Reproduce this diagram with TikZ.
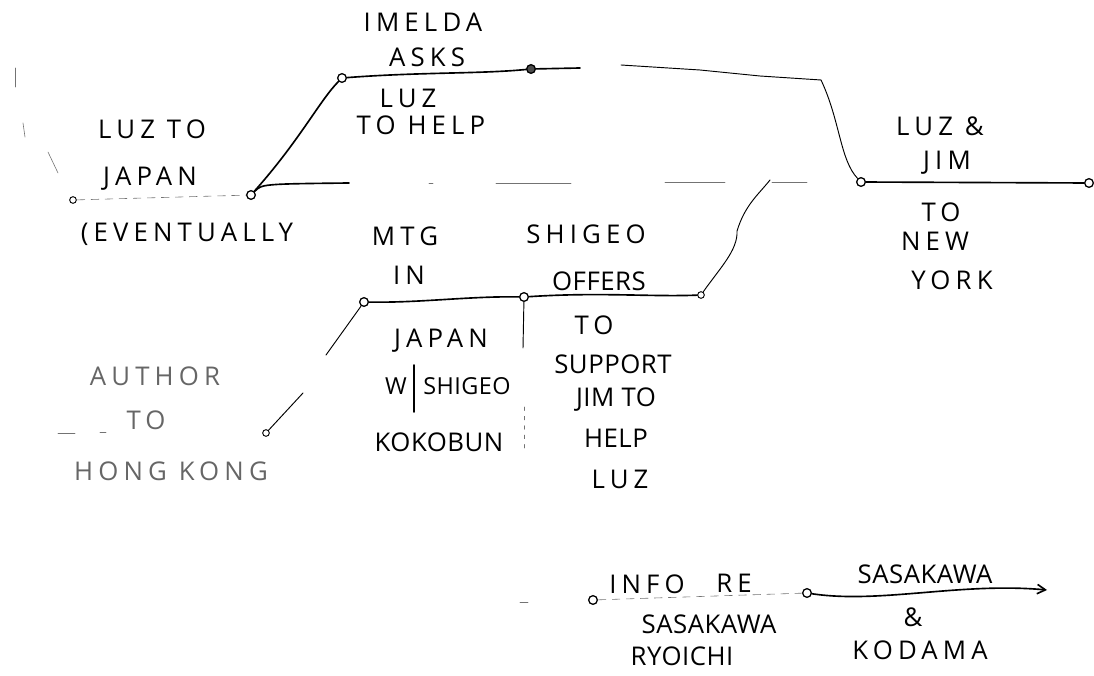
\documentclass[tikz,border=0pt]{standalone}
\usepackage{fontspec}
\setmainfont{Open Sans}[LetterSpace=20]
\usetikzlibrary{arrows.meta}
\begin{document}
\begin{tikzpicture}[x=0.03cm,y=-0.03cm,font=\fontsize{22}{26}\selectfont,
  ink/.style={line width=1.4pt,line cap=round,line join=round},
  thinink/.style={line width=0.8pt,line cap=round,line join=round},
  faint/.style={line width=0.5pt,black!55,line cap=round},
  faintdash/.style={line width=0.5pt,black!55,dash pattern=on 7pt off 5pt},
  pin/.style={circle,draw,line width=1.1pt,inner sep=0pt,minimum size=0.26cm,fill=white},
  smallpin/.style={circle,draw,line width=0.8pt,inner sep=0pt,minimum size=0.2cm,fill=white},
  lbl/.style={inner sep=0pt,anchor=center},
  tight/.style={inner sep=0pt,anchor=center,font=\fontsize{22}{26}\selectfont\addfontfeatures{LetterSpace=2}},
  small/.style={inner sep=0pt,anchor=center,font=\fontsize{20}{24}\selectfont\addfontfeatures{LetterSpace=2}},
  fadedlbl/.style={inner sep=0pt,anchor=center,text=black!60}]
\useasboundingbox (0,0) rectangle (1094,676);

% points
\node[smallpin] (A) at (73,200) {};
\node[pin] (B) at (251,195) {};
\node[pin] (C) at (342,78) {};
\node[pin,fill=black!70] (D) at (531,69) {};
\node[pin] (E) at (861,182) {};
\node[pin] (F) at (1089,183) {};
\node[pin] (G) at (364,302) {};
\node[pin] (H) at (524,297) {};
\node[smallpin] (I) at (701,295) {};
\node[smallpin] (J) at (266,433) {};
\node[pin] (K) at (593,600) {};
\node[pin] (L) at (807,593) {};

\coordinate (b1) at (349,183);
\coordinate (d1) at (580,68);
\coordinate (d2) at (621,65);
\coordinate (d3) at (821,80);
\coordinate (i1) at (737,231);
\coordinate (i2) at (770,180);
\coordinate (h1) at (523,348);
\coordinate (h2) at (524,407);
\coordinate (h3) at (524,452);
\coordinate (g1) at (326,355);
\coordinate (g2) at (303,393);
\coordinate (tip) at (1047,590);

% connectors
\draw[faintdash] (A) -- (B);
\draw[ink] (B) .. controls (300,140) and (320,100) .. (C);
\draw[ink] (C) .. controls (420,72) and (480,74) .. (D);
\draw[ink] (D) -- (d1);
\draw[thinink] (d2) -- (700,70) -- (760,76) -- (d3) .. controls (840,120) and (840,160) .. (E);
\draw[ink] (B) .. controls (262,184) .. (b1);
\draw[faint] (429,183) -- (433,183);
\draw[faint] (496,183) -- (571,183);
\draw[faint] (665,182) -- (725,182);
\draw[faint] (772,182) -- (807,182);
\draw[ink] (E) -- (F);
\draw[ink] (G) .. controls (420,303) and (470,296) .. (H);
\draw[ink] (H) .. controls (600,292) and (650,297) .. (I);
\draw[thinink] (I) .. controls (720,268) and (738,250) .. (i1) .. controls (745,205) and (758,195) .. (i2);
\draw[thinink] (G) -- (g1);
\draw[thinink] (g2) -- (J);
\draw[thinink] (H) -- (h1);
\draw[faint,dash pattern=on 3pt off 5pt] (h2) -- (h3);
\draw[faintdash] (K) -- (L);
\draw[ink,-{Straight Barb[length=7pt,width=8pt]}] (L) .. controls (880,604) and (960,582) .. (tip);

% stray marks
\draw[faint] (15,68) -- (15,87);
\draw[faint] (23,123) -- (25,137);
\draw[faint] (48,152) -- (58,173);
\draw[faint] (58,433) -- (75,433);
\draw[faint] (100,432) -- (106,432);
\draw[faint] (520,602) -- (528,602);
\draw[ink] (414,365) -- (414,412);

% labels
\node[lbl] (t1) at (423,22) {IMELDA};
\node[lbl] (t2) at (427,57) {ASKS};
\node[lbl] (t3) at (408,98) {LUZ};
\node[lbl] (t4) at (421,125) {TO HELP};
\node[lbl] (t5) at (152,129) {LUZ TO};
\node[lbl] (t6) at (150,179) {JAPAN};
\node[lbl] (t7) at (187,234) {(EVENTUALLY};
\node[lbl] (t8) at (405,236) {MTG};
\node[lbl] (t9) at (409,275) {IN};
\node[lbl] (t10) at (586,234) {SHIGEO};
\node[tight] (t11) at (599,281) {OFFERS};
\node[lbl] (t12) at (940,126) {LUZ \&};
\node[lbl] (t13) at (947,163) {JIM};
\node[lbl] (t14) at (941,212) {TO};
\node[lbl] (t15) at (935,241) {NEW};
\node[lbl] (t16) at (952,280) {YORK};
\node[lbl] (t17) at (441,341) {JAPAN};
\node[small] (t18) at (396,386) {W};
\node[small] (t19) at (467,386) {SHIGEO};
\node[tight] (t20) at (439,442) {KOKOBUN};
\node[lbl] (t21) at (594,325) {TO};
\node[tight] (t22) at (613,364) {SUPPORT};
\node[tight] (t23) at (616,400) {JIM TO};
\node[tight] (t24) at (616,438) {HELP};
\node[lbl] (t25) at (620,479) {LUZ};
\node[fadedlbl] (t26) at (155,376) {AUTHOR};
\node[fadedlbl] (t27) at (146,420) {TO};
\node[fadedlbl] (t28) at (171,471) {HONG KONG};
\node[lbl] (t29) at (647,584) {INFO};
\node[lbl] (t30) at (734,583) {RE};
\node[tight] (t31) at (709,624) {SASAKAWA};
\node[tight] (t32) at (682,656) {RYOICHI};
\node[tight] (t33) at (925,574) {SASAKAWA};
\node[lbl] (t34) at (913,617) {\&};
\node[lbl] (t35) at (920,650) {KODAMA};
\end{tikzpicture}
\end{document}
